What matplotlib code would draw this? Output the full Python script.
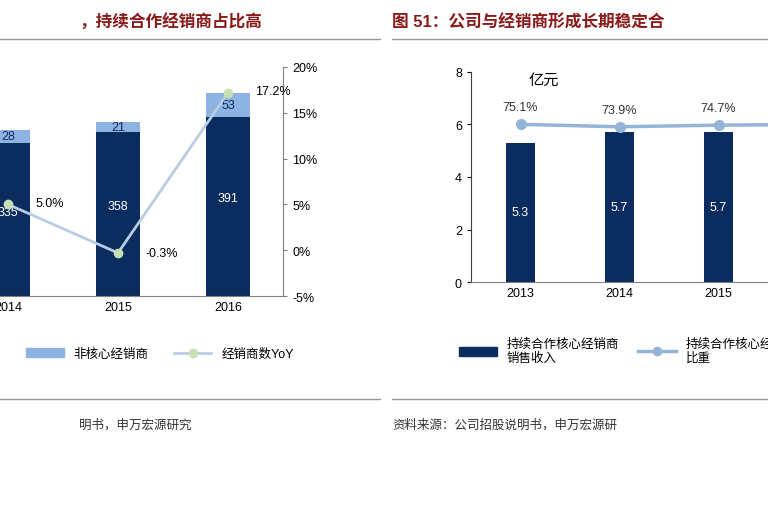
import numpy as np
import matplotlib.pyplot as plt
from matplotlib.lines import Line2D
from matplotlib.patches import Patch

plt.rcParams['font.family'] = ['Liberation Sans', 'Noto Sans CJK SC']

# left chart data
years_l = ['2013', '2014', '2015', '2016']
core = [319, 335, 358, 391]
noncore = [26, 28, 21, 53]
yoy = [np.nan, 5.0, -0.3, 17.2]

# right chart data
years_r = ['2013', '2014', '2015', '2016']
revenue = [5.3, 5.7, 5.7, 6.0]
ratio = [75.1, 73.9, 74.7, 75.0]

navy = '#0B2C5F'
light = '#8DB3E2'
W, H = 768, 510
fig = plt.figure(figsize=(7.68, 5.10), dpi=100)

def fx(px):
    return px / W

def fy(py):
    return 1 - py / H

# ---- left chart ----
ax = fig.add_axes([fx(-157), fy(297), fx(440), fy(68) - fy(297)])
x = np.arange(len(years_l))
ax.bar(x, core, 0.4, color=navy)
ax.bar(x, noncore, 0.4, bottom=core, color=light)
for i in range(1, len(x)):
    ax.text(x[i], core[i] * 0.55, str(core[i]), color='white', ha='center', va='center', fontsize=9)
    ax.text(x[i], core[i] + noncore[i] / 2, str(noncore[i]), color=navy, ha='center', va='center', fontsize=9)
ax.set_xlim(-0.5, 3.5)
ax.set_ylim(0, 500)
ax.set_yticks([])
ax.set_xticks(x)
ax.set_xticklabels(years_l, fontsize=9)
ax.tick_params(axis='x', length=0)
for s in ['top', 'right', 'left']:
    ax.spines[s].set_visible(False)
ax.spines['bottom'].set_color('#808080')
ax2 = ax.twinx()
ax2.plot(x, yoy, color='#B8CCE4', lw=2, marker='o', ms=6, mfc='#C6E0B4', mec='#C6E0B4')
ax2.set_ylim(-5, 20)
ax2.set_yticks([-5, 0, 5, 10, 15, 20])
ax2.set_yticklabels([f'{v}%' for v in [-5, 0, 5, 10, 15, 20]], fontsize=9)
for s in ['top', 'left', 'bottom']:
    ax2.spines[s].set_visible(False)
ax2.spines['right'].set_color('#808080')
ax2.tick_params(axis='y', length=3, color='#808080')
for i in range(1, len(x)):
    ax2.text(x[i] + 0.25, yoy[i] + (0.2 if i != 2 else 0), f'{yoy[i]:.1f}%', fontsize=9,
             ha='left', va='center')
fig.legend(handles=[Patch(color=light, label='非核心经销商'),
                    Line2D([], [], color='#B8CCE4', lw=2, marker='o', mfc='#C6E0B4', mec='#C6E0B4', label='经销商数YoY')],
           loc='center', bbox_to_anchor=(fx(160), fy(355)), ncol=2, frameon=False, fontsize=9,
           handlelength=3, columnspacing=2)

fig.text(fx(262), fy(22), '，持续合作经销商占比高', ha='right', va='center',
         fontsize=12, color='#8B1A1A', fontweight='bold')
fig.add_artist(Line2D([0, fx(380)], [fy(40), fy(40)], color='#999999', lw=1))
fig.add_artist(Line2D([0, fx(380)], [fy(400), fy(400)], color='#999999', lw=1))
fig.text(fx(192), fy(425), '明书，申万宏源研究', ha='right', va='center', fontsize=9, color='#333333')

# ---- right chart ----
bx = fig.add_axes([fx(471), fy(283), fx(396), fy(73) - fy(283)])
xr = np.arange(len(years_r))
bx.bar(xr, revenue, 0.3, color=navy)
for i in range(len(xr)):
    bx.text(xr[i], revenue[i] / 2, f'{revenue[i]:.1f}', color='white', ha='center', va='center', fontsize=9)
bx.set_xlim(-0.5, 3.5)
bx.set_ylim(0, 8)
bx.set_yticks([0, 2, 4, 6, 8])
bx.tick_params(axis='y', labelsize=9, length=3)
bx.set_xticks(xr)
bx.set_xticklabels(years_r, fontsize=9)
bx.tick_params(axis='x', length=0)
for s in ['top', 'right']:
    bx.spines[s].set_visible(False)
bx.spines['left'].set_color('#404040')
bx.spines['bottom'].set_color('#808080')
bx.text(0.08, 7.7, '亿元', fontsize=11, ha='left', va='center')
bx2 = bx.twinx()
bx2.plot(xr, ratio, color='#95B3D7', lw=2.5, marker='o', ms=7)
bx2.set_ylim(0, 100)
bx2.axis('off')
for i in range(3):
    bx2.text(xr[i], ratio[i] + 8, f'{ratio[i]:.1f}%', ha='center', va='center', fontsize=9, color='#333333')
fig.legend(handles=[Patch(color=navy, label='持续合作核心经销商\n销售收入'),
                    Line2D([], [], color='#95B3D7', lw=2.5, marker='o', label='持续合作核心经销商\n比重')],
           loc='center left', bbox_to_anchor=(fx(448), fy(352)), ncol=2, frameon=False, fontsize=9,
           handlelength=3, columnspacing=1.5)

fig.text(fx(392), fy(22), '图 51：公司与经销商形成长期稳定合', ha='left', va='center',
         fontsize=12, color='#8B1A1A', fontweight='bold')
fig.add_artist(Line2D([fx(392), 1], [fy(40), fy(40)], color='#999999', lw=1))
fig.add_artist(Line2D([fx(392), 1], [fy(400), fy(400)], color='#999999', lw=1))
fig.text(fx(392), fy(425), '资料来源：公司招股说明书，申万宏源研', ha='left', va='center', fontsize=9, color='#333333')

fig.savefig('out.png', dpi=100)
